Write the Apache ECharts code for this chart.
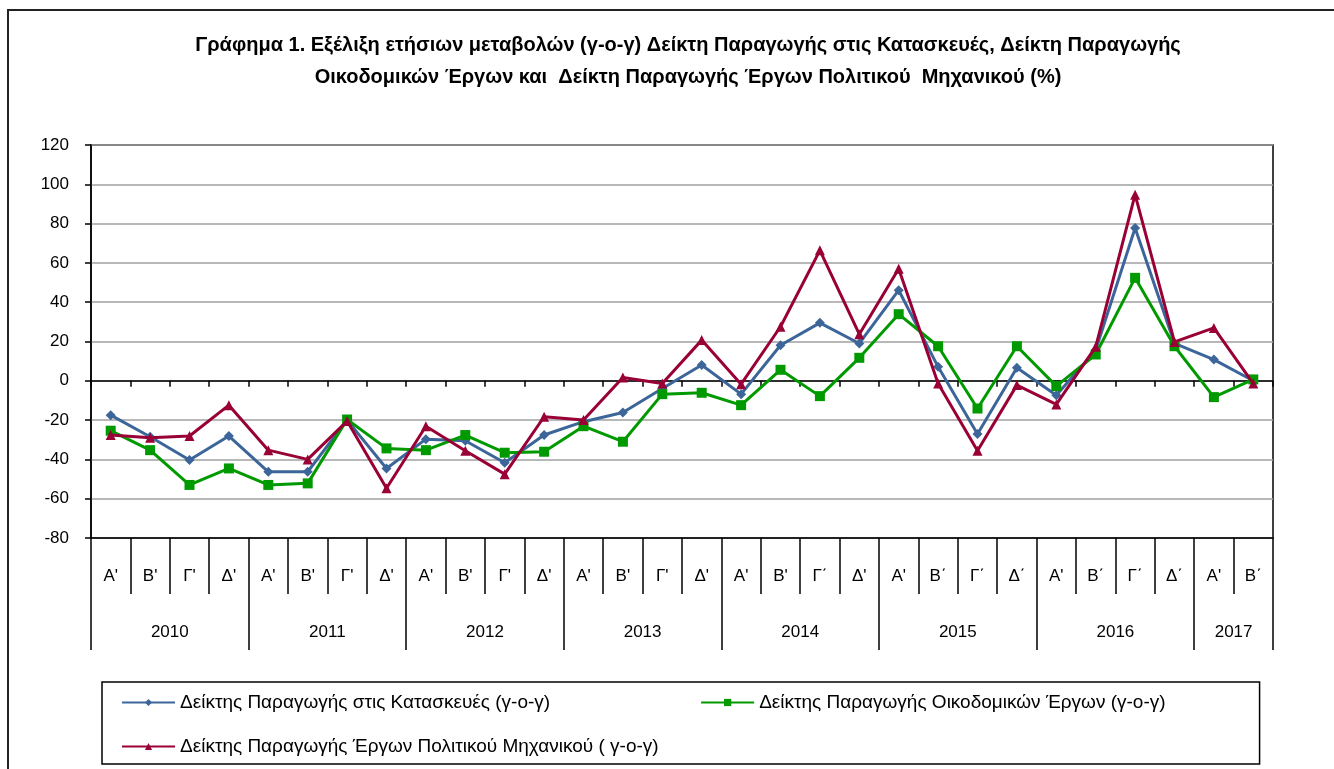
<!DOCTYPE html>
<html>
<head>
<meta charset="utf-8">
<script src="https://cdn.jsdelivr.net/npm/echarts@6/dist/echarts.min.js"></script>
<style>
    html, body { margin: 0; padding: 0; background: #fff; overflow: hidden; }
    #chart { position: absolute; left: 0; top: 0; width: 1334px; height: 769px; }
    .frame {
        position: absolute; left: 7px; top: 9px; width: 1400px; height: 800px;
        border-left: 2px solid #222; border-top: 2px solid #222; pointer-events: none;
    }
</style>
</head>
<body>
<div id="chart"></div>
<div class="frame"></div>
<script>
// τρίμηνα 2010 - 2017 B'
const quarters = [
    "Α'", "Β'", "Γ'", "Δ'",
    "Α'", "Β'", "Γ'", "Δ'",
    "Α'", "Β'", "Γ'", "Δ'",
    "Α'", "Β'", "Γ'", "Δ'",
    "Α'", "Β'", "Γ΄", "Δ'",
    "Α'", "Β΄", "Γ΄", "Δ΄",
    "Α'", "Β΄", "Γ΄", "Δ΄",
    "Α'", "Β΄",
]
const years = ['2010', '2011', '2012', '2013', '2014', '2015', '2016', '2017']
const quartersPerYear = [4, 4, 4, 4, 4, 4, 4, 2]

const titleText =
    'Γράφημα 1. Εξέλιξη ετήσιων μεταβολών (γ-ο-γ) Δείκτη Παραγωγής στις Κατασκευές, Δείκτη Παραγωγής\n' +
    'Οικοδομικών Έργων και  Δείκτη Παραγωγής Έργων Πολιτικού  Μηχανικού (%)'

const seriesNames = [
    'Δείκτης Παραγωγής στις Κατασκευές (γ-ο-γ)',
    'Δείκτης Παραγωγής Οικοδομικών Έργων (γ-ο-γ)',
    'Δείκτης Παραγωγής Έργων Πολιτικού Μηχανικού ( γ-ο-γ)',
]
const constructionIdx = [
    -17.5, -28.5, -40.3, -28.1, -46.3, -46.3, -20.0, -44.6,
    -29.7, -30.5, -41.7, -27.6, -20.8, -16.1, -3.9, 8.0,
    -6.8, 18.1, 29.5, 19.0, 46.1, 7.1, -27.1, 6.6,
    -7.3, 15.6, 77.8, 19.0, 10.8, 0.0,
]
const buildingIdx = [
    -25.4, -35.3, -53.0, -44.6, -53.0, -52.2, -19.7, -34.4,
    -35.3, -27.6, -36.6, -36.1, -23.1, -31.0, -6.8, -6.1,
    -12.4, 5.6, -7.8, 11.7, 33.9, 17.6, -14.1, 17.6,
    -2.7, 13.4, 52.4, 17.6, -8.3, 0.7,
]
const civilEngIdx = [
    -27.6, -29.0, -28.1, -12.4, -35.3, -40.0, -20.5, -54.7,
    -23.1, -35.6, -47.5, -18.3, -20.0, 1.7, -1.4, 20.7,
    -1.7, 27.5, 66.4, 23.7, 57.0, -1.4, -35.6, -2.2,
    -12.0, 17.3, 94.7, 19.8, 26.9, -1.4,
]

const COLOR_LIST = ['#3C6699', '#009A00', '#990036']
const SYMBOLS = ['diamond', 'rect', 'triangle']
const FONT = "'Liberation Sans', sans-serif"

// όρια ετών πάνω στον άξονα (0..30), ετικέτα στο μέσο κάθε έτους
const yearBounds = [0]
quartersPerYear.forEach((n) => yearBounds.push(yearBounds[yearBounds.length - 1] + n))
const yearAxisData = []
for (let i = 0; i <= quarters.length; i++) {
    let label = ''
    years.forEach((y, k) => {
        if ((yearBounds[k] + yearBounds[k + 1]) / 2 === i) label = y
    })
    yearAxisData.push(label)
}

const chart = echarts.init(document.getElementById('chart'))

const series = [constructionIdx, buildingIdx, civilEngIdx].map((data, index) => {
    return {
        name: seriesNames[index],
        type: 'line',
        xAxisIndex: 0,
        data: data,
        symbol: SYMBOLS[index],
        symbolSize: 10,
        showAllSymbol: true,
        lineStyle: { color: COLOR_LIST[index], width: 3 },
        itemStyle: { color: COLOR_LIST[index] },
        z: 3 + index,
    }
})

const legendText = { fontFamily: FONT, fontSize: 19, color: '#000' }

const option = {
    animation: false,
    textStyle: { fontFamily: FONT, color: '#000' },
    // ο τίτλος είναι λίγο δεξιά από το κέντρο, όπως στο πρωτότυπο
    graphic: [
        {
            type: 'text',
            x: 688,
            y: 29,
            style: {
                text: titleText,
                align: 'center',
                verticalAlign: 'top',
                fontFamily: FONT,
                fontWeight: 'bold',
                fontSize: 20,
                lineHeight: 32,
                fill: '#000',
            },
        },
    ],
    legend: [
        {
            // πρώτη σειρά + πλαίσιο
            left: 102,
            top: 682,
            itemWidth: 53,
            itemHeight: 9,
            itemGap: 150,
            padding: [11, 94, 52, 19],
            borderColor: '#000',
            borderWidth: 1.5,
            textStyle: legendText,
            data: seriesNames.slice(0, 2),
        },
        {
            left: 102,
            top: 726,
            itemWidth: 53,
            itemHeight: 9,
            padding: [11, 0, 0, 19],
            textStyle: legendText,
            data: seriesNames.slice(2),
        },
    ],
    grid: {
        left: 91,
        top: 145,
        right: 61,
        bottom: 231,
        show: true,
        borderColor: '#000',
        borderWidth: 1.5,
        containLabel: false,
    },
    xAxis: [
        {
            // άξονας στο μηδέν με μικρές υποδιαιρέσεις
            type: 'category',
            data: quarters,
            boundaryGap: true,
            axisLine: { onZero: true, lineStyle: { color: '#000', width: 1.5 } },
            axisTick: { show: true, length: 6, lineStyle: { color: '#000', width: 1.5 } },
            axisLabel: { show: false },
            splitLine: { show: false },
        },
        {
            // ετικέτες τριμήνων
            type: 'category',
            data: quarters,
            position: 'bottom',
            boundaryGap: true,
            axisLine: { onZero: false, lineStyle: { color: '#000', width: 1.5 } },
            axisTick: { show: true, length: 56, lineStyle: { color: '#000', width: 1.5 } },
            axisLabel: { interval: 0, margin: 30, fontSize: 17, color: '#000', fontFamily: FONT },
        },
        {
            // ετικέτες ετών
            type: 'category',
            data: yearAxisData,
            position: 'bottom',
            boundaryGap: false,
            axisLine: { show: false, onZero: false },
            axisTick: {
                show: true,
                length: 112,
                interval: (i) => yearBounds.indexOf(i) !== -1,
                lineStyle: { color: '#000', width: 1.5 },
            },
            axisLabel: {
                interval: (i, v) => v !== '',
                margin: 86,
                fontSize: 17,
                color: '#000',
                fontFamily: FONT,
            },
        },
    ],
    yAxis: {
        type: 'value',
        min: -80,
        max: 120,
        interval: 20,
        axisLine: { show: true, onZero: false, lineStyle: { color: '#000', width: 1.5 } },
        axisTick: { show: true, length: 6, lineStyle: { color: '#000', width: 1.5 } },
        axisLabel: { margin: 22, fontSize: 17, color: '#000', fontFamily: FONT },
        splitLine: { lineStyle: { color: '#a0a0a0', width: 1.5 } },
    },
    series: series,
}
chart.setOption(option)
</script>
</body>
</html>
